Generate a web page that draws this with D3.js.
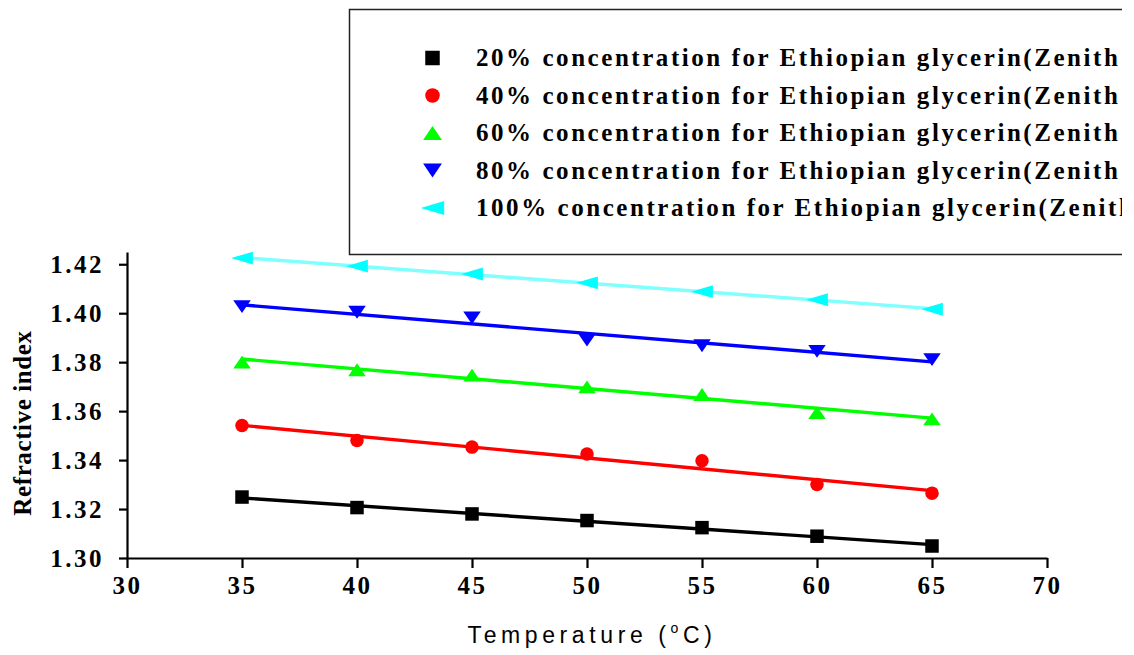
<!DOCTYPE html>
<html>
<head>
<meta charset="utf-8">
<script src="https://cdn.jsdelivr.net/npm/d3@7"></script>
<style>
  body { margin: 0; background: #fff; }
</style>
</head>
<body>
<svg id="chart" width="1134" height="655"></svg>
<script>
// Data
const temperatures = [35, 40, 45, 50, 55, 60, 65];
const ri20 = [1.3249, 1.3206, 1.3180, 1.3153, 1.3124, 1.3089, 1.3049];
const ri40 = [1.3541, 1.3480, 1.3453, 1.3425, 1.3397, 1.3300, 1.3265];
const ri60 = [1.3800, 1.3769, 1.3747, 1.3699, 1.3668, 1.3594, 1.3568];
const ri80 = [1.4027, 1.4004, 1.3981, 1.3890, 1.3867, 1.3844, 1.3810];
const ri100 = [1.4225, 1.4192, 1.4160, 1.4124, 1.4088, 1.4055, 1.4016];
const seriesNames = [
  "20% concentration for Ethiopian glycerin(Zenith",
  "40% concentration for Ethiopian glycerin(Zenith",
  "60% concentration for Ethiopian glycerin(Zenith",
  "80% concentration for Ethiopian glycerin(Zenith",
  "100% concentration for Ethiopian glycerin(Zenith"
];
const xTicks = [30, 35, 40, 45, 50, 55, 60, 65, 70];
const yTicks = [1.30, 1.32, 1.34, 1.36, 1.38, 1.40, 1.42];

const series = [
  { name: seriesNames[0], values: ri20, color: "#000000", line: "#000000", shape: "square" },
  { name: seriesNames[1], values: ri40, color: "#ff0000", line: "#ff0000", shape: "circle" },
  { name: seriesNames[2], values: ri60, color: "#00ff00", line: "#00ff00", shape: "up" },
  { name: seriesNames[3], values: ri80, color: "#0000ff", line: "#0000ff", shape: "down" },
  { name: seriesNames[4], values: ri100, color: "#00ffff", line: "#80ffff", shape: "left" }
];

const serif = "'Liberation Serif', 'DejaVu Serif', 'Times New Roman', serif";

const margin = { top: 252, right: 87, bottom: 97, left: 127 };
const width = 1134 - margin.left - margin.right;
const height = 655 - margin.top - margin.bottom;

const root = d3.select("#chart");
const svg = root.append("g")
  .attr("transform", `translate(${margin.left},${margin.top})`);

const x = d3.scaleLinear().domain([30, 70]).range([0, width]);
const y = d3.scaleLinear().domain([1.30, 1.425]).range([height, 0]);

// marker shapes
function markerPath(shape, s) {
  if (shape === "square") return `M${-s/2},${-s/2}h${s}v${s}h${-s}Z`;
  if (shape === "circle") { const r = s / 2; return `M${r},0A${r},${r} 0 1,1 ${-r},0A${r},${r} 0 1,1 ${r},0Z`; }
  const w = s * 1.3, h = s * 0.95;
  if (shape === "up") return `M0,${-h/2}L${w/2},${h/2}L${-w/2},${h/2}Z`;
  if (shape === "down") return `M0,${h/2}L${w/2},${-h/2}L${-w/2},${-h/2}Z`;
  return `M${-w * 0.62},0L${w * 0.62},${-h/2}L${w * 0.62},${h/2}Z`;
}

// axes
const xAxis = d3.axisBottom(x).tickValues(xTicks).tickSize(10).tickSizeOuter(0).tickFormat(d3.format("d"));
const yAxis = d3.axisLeft(y).tickValues(yTicks).tickSize(8).tickSizeOuter(0).tickFormat(d3.format(".2f"));

const gx = svg.append("g")
  .attr("transform", `translate(0,${height})`)
  .call(xAxis);
gx.selectAll("text")
  .attr("y", 36).attr("dy", null)
  .attr("letter-spacing", 2.5);

const gy = svg.append("g").call(yAxis);
gy.selectAll("text")
  .attr("x", -23).attr("dy", "0.33em")
  .attr("letter-spacing", 2.5);

[gx, gy].forEach(g => {
  g.attr("font-family", serif).attr("font-size", 25).attr("font-weight", "bold");
  g.selectAll("text").attr("fill", "#000");
  g.select(".domain").attr("stroke", "#000").attr("stroke-width", 2.2);
  g.selectAll(".tick line").attr("stroke", "#000").attr("stroke-width", 2.2);
});

// linear fits and markers
series.forEach(s => {
  const pts = temperatures.map((t, i) => [t, s.values[i]]);
  const mx = d3.mean(pts, d => d[0]);
  const my = d3.mean(pts, d => d[1]);
  const slope = d3.sum(pts, d => (d[0] - mx) * (d[1] - my)) / d3.sum(pts, d => (d[0] - mx) ** 2);
  const fit = d3.extent(temperatures).map(t => [t, my + slope * (t - mx)]);

  svg.append("path")
    .datum(fit)
    .attr("fill", "none")
    .attr("stroke", s.line)
    .attr("stroke-width", 3.4)
    .attr("d", d3.line().x(d => x(d[0])).y(d => y(d[1])));

  svg.selectAll(null)
    .data(pts)
    .enter().append("path")
    .attr("transform", d => `translate(${x(d[0])},${y(d[1])})`)
    .attr("d", markerPath(s.shape, 13.5))
    .attr("fill", s.color);
});

// axis titles
root.append("text")
  .attr("transform", "translate(31,423) rotate(-90)")
  .attr("text-anchor", "middle")
  .attr("font-family", serif)
  .attr("font-weight", "bold")
  .attr("font-size", 25)
  .attr("letter-spacing", 0.6)
  .text("Refractive index");

const xt = root.append("text")
  .attr("x", 592).attr("y", 643)
  .attr("text-anchor", "middle")
  .attr("font-family", "'Liberation Sans', Arial, sans-serif")
  .attr("font-size", 23)
  .attr("letter-spacing", 4.6);
xt.append("tspan").text("Temperature (");
xt.append("tspan").attr("font-size", 14).attr("dy", -10).text("o");
xt.append("tspan").attr("dy", 10).text("C)");

// legend
const legendRight = 1122;
root.append("clipPath").attr("id", "legend-clip")
  .append("rect").attr("x", 349).attr("y", 0).attr("width", legendRight - 349).attr("height", 260);

root.append("path")
  .attr("d", `M${legendRight},9.5H349.5V254.5H${legendRight}`)
  .attr("fill", "none")
  .attr("stroke", "#222")
  .attr("stroke-width", 1.5);

const legend = root.append("g").attr("clip-path", "url(#legend-clip)");
const rowY = d3.scaleLinear().domain([0, 4]).range([58, 208]);
series.forEach((s, i) => {
  legend.append("path")
    .attr("transform", `translate(432.5,${rowY(i)})`)
    .attr("d", markerPath(s.shape, 14.5))
    .attr("fill", s.color);
  legend.append("text")
    .attr("x", 476).attr("y", rowY(i) + 8)
    .attr("font-family", serif)
    .attr("font-weight", "bold")
    .attr("font-size", 25)
    .attr("letter-spacing", 2.55)
    .text(s.name);
});
</script>
</body>
</html>
